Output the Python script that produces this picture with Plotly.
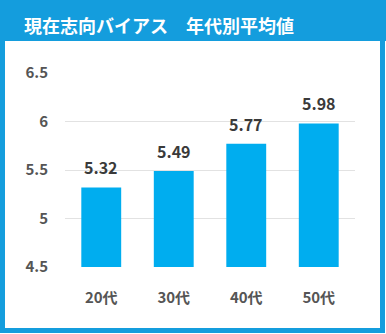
import plotly.graph_objects as go

# Average present-bias score by age group
age_groups = ["20代", "30代", "40代", "50代"]
avg_scores = [5.32, 5.49, 5.77, 5.98]
y_ticks = [4.5, 5, 5.5, 6, 6.5]

title_text = "現在志向バイアス　年代別平均値"

W, H = 386, 334
L, R, T, B = 65, 31, 73, 67
plot_w = W - L - R
plot_h = H - T - B

HEADER = "#149ddd"
BAR = "#00adef"
FONT = "Noto Sans CJK JP"


def px_x(px):
    return (px - L) / plot_w


def px_y(py):
    return (H - B - py) / plot_h


fig = go.Figure(
    go.Bar(
        x=age_groups,
        y=avg_scores,
        marker=dict(color=BAR, line=dict(width=0)),
        hoverinfo="skip",
    )
)

# value labels above each bar
for cat, val in zip(age_groups, avg_scores):
    fig.add_annotation(
        x=cat, y=val, xref="x", yref="y",
        text=f"{val:.2f}", showarrow=False,
        yanchor="bottom", yshift=6,
        font=dict(family=FONT, size=16, color="#3a3a3a", weight=600),
    )

# card header band and frame
fig.add_shape(type="rect", xref="paper", yref="paper", layer="below",
              x0=px_x(0), x1=px_x(W), y0=px_y(41), y1=px_y(0),
              fillcolor=HEADER, line=dict(width=0))
fig.add_shape(type="rect", xref="paper", yref="paper", layer="below",
              x0=px_x(2.5), x1=px_x(W - 3.5), y0=px_y(H - 3.5), y1=px_y(2),
              fillcolor="rgba(0,0,0,0)", line=dict(color=HEADER, width=5))

fig.add_annotation(
    x=px_x(22), y=px_y(25), xref="paper", yref="paper",
    xanchor="left", yanchor="middle", showarrow=False,
    text=title_text,
    font=dict(family=FONT, size=18, color="white", weight=700),
)

fig.update_layout(
    width=W, height=H,
    margin=dict(l=L, r=R, t=T, b=B, pad=0),
    paper_bgcolor="white", plot_bgcolor="white",
    bargap=0.45, showlegend=False,
    font=dict(family=FONT),
    xaxis=dict(
        showgrid=False, showline=False, zeroline=False,
        ticks="", ticklabelstandoff=20,
        tickfont=dict(family=FONT, size=15, color="#555555", weight=600),
    ),
    yaxis=dict(
        range=[4.5, 6.5], tickmode="array", tickvals=y_ticks,
        ticktext=[f"{v:g}" for v in y_ticks],
        showgrid=True, gridcolor="#e2e2e2", gridwidth=1,
        zeroline=False, showline=False, ticks="",
        ticklabelstandoff=16,
        tickfont=dict(family=FONT, size=15, color="#555555", weight=600),
    ),
)

fig.write_html("out.html")
